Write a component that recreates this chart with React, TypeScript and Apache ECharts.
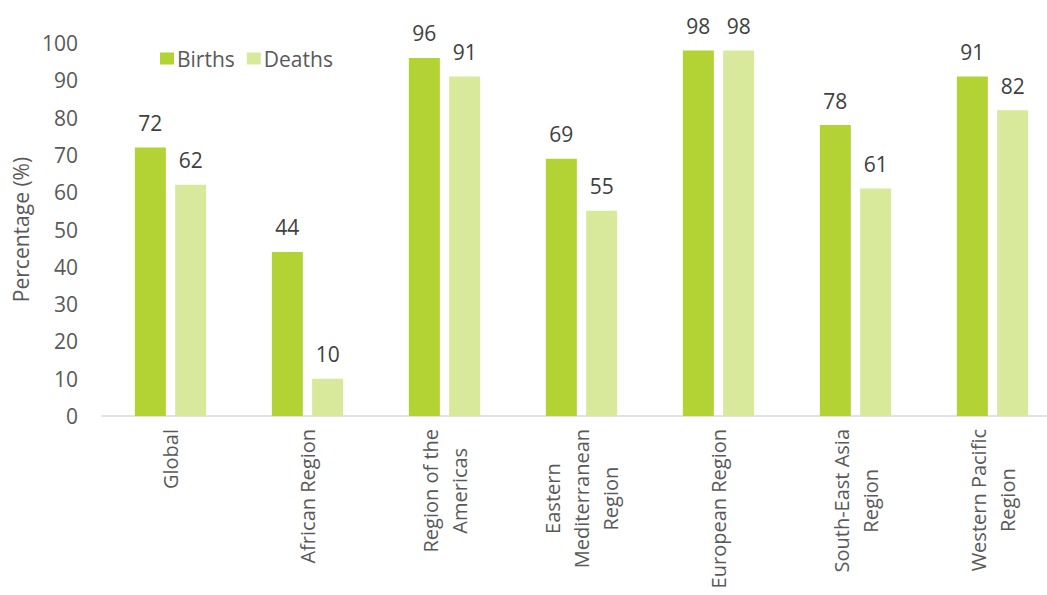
import React, { useEffect, useRef } from "react";
import * as echarts from "echarts";

const categories = [
  "Global",
  "African Region",
  "Region of the\nAmericas",
  "Eastern\nMediterranean\nRegion",
  "European Region",
  "South-East Asia\nRegion",
  "Western Pacific\nRegion",
];
const births = [72, 44, 96, 69, 98, 78, 91];
const deaths = [62, 10, 91, 55, 98, 61, 82];
const seriesNames = ["Births", "Deaths"];
const yMin = 0;
const yMax = 100;
const yInterval = 10;

const FONT = '"Open Sans", "Noto Sans", sans-serif';
const BIRTH_COLOR = "#b3d334";
const DEATH_COLOR = "#d8e99b";

export default function App() {
  const ref = useRef<HTMLDivElement>(null);
  useEffect(() => {
    if (!ref.current) return;
    const chart = echarts.init(ref.current, undefined, { renderer: "svg" });
    chart.setOption({
      animation: false,
      backgroundColor: "#ffffff",
      textStyle: { fontFamily: FONT },
      legend: {
        left: 155,
        top: 43,
        itemWidth: 14,
        itemHeight: 12,
        itemGap: 12,
        icon: "rect",
        data: seriesNames,
        textStyle: { fontSize: 21, color: "#595959", fontFamily: FONT, padding: [0, 0, 0, -2] },
      },
      grid: {
        left: 102,
        top: 43,
        width: 959,
        height: 373,
        outerBoundsMode: "none",
        containLabel: false,
      },
      xAxis: {
        type: "category",
        data: categories,
        axisLine: { lineStyle: { color: "#d9d9d9", width: 1.5 } },
        axisTick: { show: false },
        axisLabel: {
          rotate: 90,
          interval: 0,
          margin: 13,
          color: "#595959",
          fontSize: 20,
          fontFamily: FONT,
          formatter: (v: string) =>
            v
              .split("\n")
              .map((l) => `{c|${l}}`)
              .join("\n"),
          rich: {
            c: { align: "center", fontSize: 20, lineHeight: 29, color: "#595959", fontFamily: FONT },
          },
        },
      },
      yAxis: {
        type: "value",
        min: yMin,
        max: yMax,
        interval: yInterval,
        name: "Percentage (%)",
        nameLocation: "middle",
        nameGap: 70,
        nameTextStyle: { fontSize: 21, color: "#595959", fontFamily: FONT },
        axisLine: { show: false },
        axisTick: { show: false },
        splitLine: { show: false },
        axisLabel: { fontSize: 21, color: "#595959", margin: 24, fontFamily: FONT },
      },
      series: [
        {
          name: seriesNames[0],
          type: "bar",
          data: births,
          barWidth: 31,
          barGap: "30%",
          itemStyle: { color: BIRTH_COLOR },
          label: { show: true, position: "top", distance: 14, fontSize: 21, color: "#404040", fontFamily: FONT },
        },
        {
          name: seriesNames[1],
          type: "bar",
          data: deaths,
          barWidth: 31,
          barGap: "30%",
          itemStyle: { color: DEATH_COLOR },
          label: { show: true, position: "top", distance: 14, fontSize: 21, color: "#404040", fontFamily: FONT },
        },
      ],
    });
    return () => chart.dispose();
  }, []);
  return (
    <div
      ref={ref}
      style={{ position: "fixed", left: 0, top: 0, width: 1047, height: 595, background: "#fff" }}
    />
  );
}
